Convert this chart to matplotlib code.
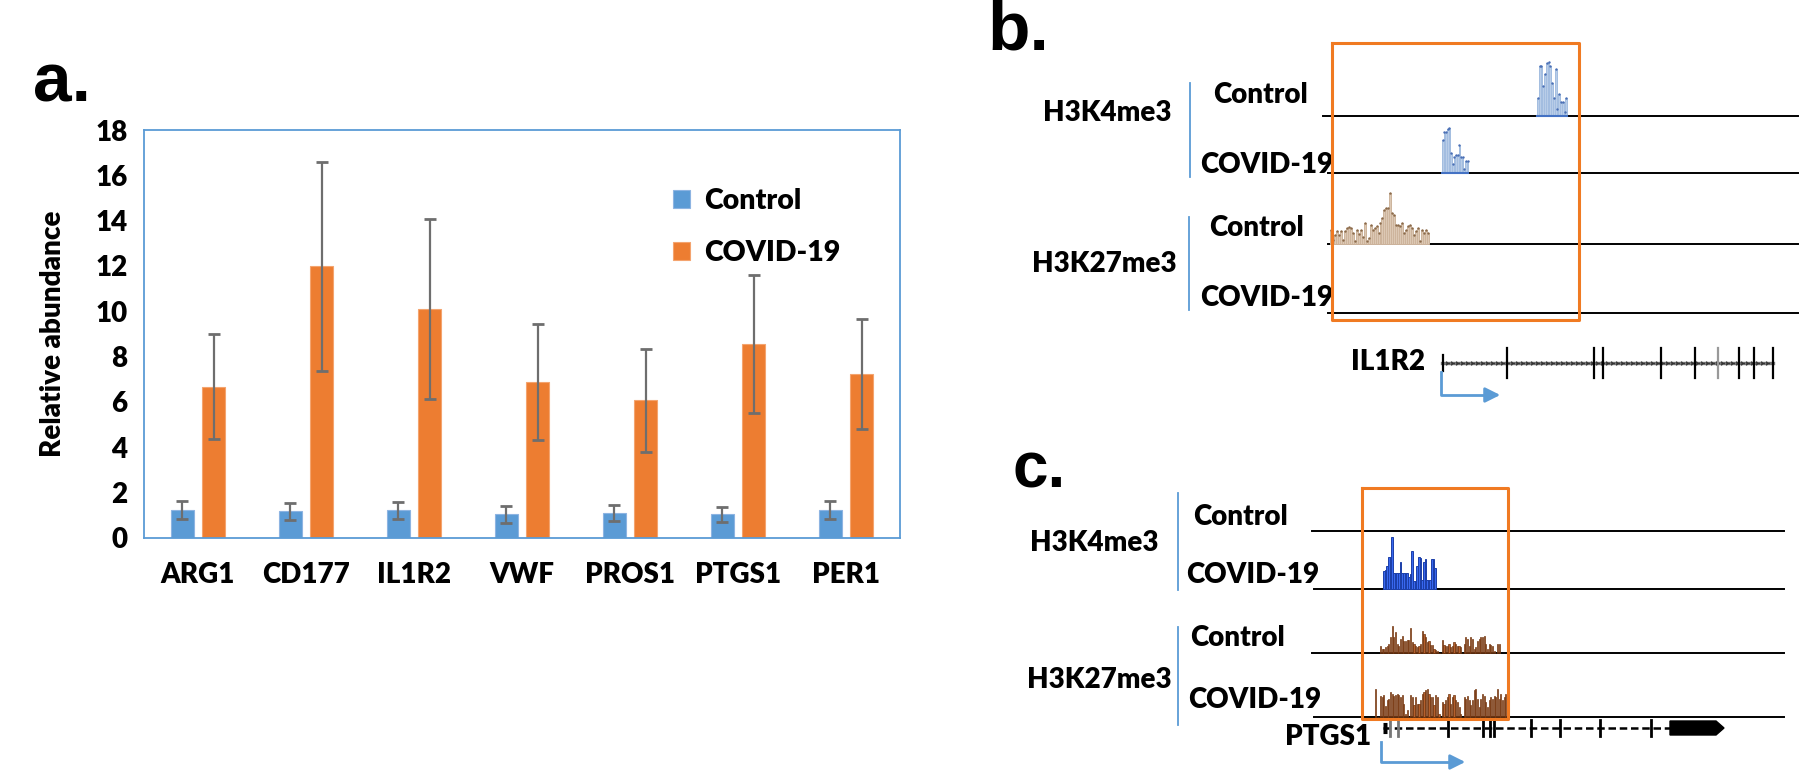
import numpy as np
import matplotlib.pyplot as plt

plt.rcParams['font.family'] = ['Lato', 'DejaVu Sans']
plt.rcParams['font.weight'] = 'heavy'
FW = 'heavy'

# ---- panel a data ----
genes = ['ARG1', 'CD177', 'IL1R2', 'VWF', 'PROS1', 'PTGS1', 'PER1']
control = [1.22, 1.18, 1.22, 1.05, 1.10, 1.05, 1.22]
control_err = [0.40, 0.38, 0.38, 0.37, 0.37, 0.33, 0.40]
covid = [6.68, 11.98, 10.10, 6.88, 6.07, 8.57, 7.24]
covid_err = [2.30, 4.60, 3.98, 2.55, 2.27, 3.05, 2.43]

# ---- panel b signal (IL1R2 locus) ----
b_k4_ctrl = [18, 50, 50, 30, 42, 53, 54, 50, 33, 18, 47, 7, 22, 14, 14, 4, 18]
b_k4_covid = [33, 41, 41, 44, 45, 20, 9, 16, 18, 18, 28, 16, 16, 4, 12, 12]
b_k27_ctrl = [14, 4, 9, 13, 9, 13, 4, 13, 16, 17, 16, 11, 3, 14, 10, 14, 7, 21, 3, 6,
              19, 14, 16, 18, 11, 21, 26, 34, 36, 36, 51, 31, 29, 19, 19, 18, 21, 11, 14, 18,
              19, 16, 9, 13, 16, 3, 14, 11, 14, 11]
il1r2_exons = [1443, 1507, 1594, 1603, 1661, 1695, 1718, 1739, 1754, 1773]

# ---- panel c signal (PTGS1 locus) ----
c_k4_covid = [18, 19, 23, 32, 32, 52, 16, 16, 16, 16, 27, 16, 16, 16, 16, 12, 15, 38, 8, 8,
              23, 32, 31, 9, 27, 30, 9, 9, 9, 30, 30, 21]
c_k27_ctrl = [7, 4, 4, 6, 7, 9, 16, 27, 16, 21, 9, 7, 14, 17, 12, 12, 13, 13, 25, 11,
              9, 7, 6, 7, 9, 22, 19, 16, 11, 12, 8, 8, 4, 3, 2, 0, 0, 13, 8, 7,
              7, 9, 6, 7, 11, 9, 7, 7, 6, 0, 9, 16, 14, 7, 16, 14, 4, 6, 12, 14,
              16, 16, 17, 9, 4, 9, 8, 7, 2, 0, 9, 9]
c_k27_covid = [28, 0, 0, 21, 20, 22, 11, 17, 18, 25, 23, 21, 22, 23, 22, 20, 22, 13, 3, 7,
               0, 22, 20, 12, 20, 13, 13, 17, 23, 25, 27, 28, 23, 20, 20, 12, 22, 20, 3, 0,
               15, 13, 17, 20, 23, 13, 20, 22, 17, 15, 10, 3, 0, 20, 18, 21, 17, 12, 17, 27,
               28, 18, 10, 18, 23, 21, 15, 10, 17, 20, 18, 21, 20, 28, 18, 23, 17, 20, 23, 25]
ptgs1_exons = [1390, 1398, 1448, 1483, 1490, 1494, 1531, 1560, 1600, 1651]

W, H = 1810, 775
fig = plt.figure(figsize=(W / 100, H / 100), dpi=100)

# ================= panel a =================
ax = fig.add_axes([144 / W, 1 - 538 / H, 756 / W, 408 / H])
x = np.arange(len(genes))
ekw = dict(ecolor='#6e6e6e', elinewidth=1.6, capsize=4, capthick=2)
ax.bar(x - 0.145, control, 0.218, yerr=control_err, color='#5b9bd5',
       edgecolor='#8db4e2', linewidth=0.8, error_kw=ekw, label='Control')
ax.bar(x + 0.145, covid, 0.218, yerr=covid_err, color='#ed7d31',
       edgecolor='#f4a46f', linewidth=0.8, error_kw=ekw, label='COVID-19')
ax.set_xlim(-0.5, len(genes) - 0.5)
ax.set_ylim(0, 18)
ax.set_yticks(range(0, 19, 2))
ax.set_xticks(x, genes)
ax.tick_params(axis='both', length=0, labelsize=20)
ax.tick_params(axis='y', pad=12)
ax.tick_params(axis='x', pad=17)
for lab in ax.get_xticklabels() + ax.get_yticklabels():
    lab.set_fontweight(FW)
for s in ax.spines.values():
    s.set_color('#5b9bd5')
    s.set_linewidth(1.3)
ax.set_ylabel('Relative abundance', fontsize=20, fontweight=FW, labelpad=21)
ax.legend(loc='upper left', bbox_to_anchor=(0.70, 0.857), frameon=False,
          prop=dict(size=20.5, weight=FW),
          handlelength=0.6, handleheight=0.6, handletextpad=0.5, labelspacing=0.9,
          borderpad=0, borderaxespad=0)

# ================= panels b, c (pixel canvas) =================
t = fig.add_axes([0, 0, 1, 1])
t.set_xlim(0, W)
t.set_ylim(H, 0)
t.axis('off')
t.patch.set_alpha(0)


def peak(x0, step, heights, base, width, fc, ec, dots=None, lw=0.7):
    h = np.array(heights, dtype=float)
    xs = x0 + step * np.arange(len(h))
    t.bar(xs, -h, width, bottom=base, align='edge', color=fc, edgecolor=ec, linewidth=lw, zorder=2)
    if dots:
        t.scatter(xs + width / 2, base - h, s=3, color=dots, zorder=3, linewidths=0)
    return xs


lbl = dict(fontsize=20, fontweight=FW, va='center')
t.text(33, 102, 'a.', fontsize=50, fontweight='bold', family='Liberation Sans', va='baseline')
t.text(987, 50, 'b.', fontsize=50, fontweight='bold', family='Liberation Sans', va='baseline')
t.text(1012, 487, 'c.', fontsize=46, fontweight='bold', family='Liberation Sans', va='baseline')

# --- panel b ---
t.text(1171, 113, 'H3K4me3', ha='right', **lbl)
t.text(1177, 264, 'H3K27me3', ha='right', **lbl)
t.plot([1190, 1190], [83, 177], color='#5b9bd5', lw=1.3)
t.plot([1189, 1189], [217, 310], color='#5b9bd5', lw=1.3)
t.text(1213, 95, 'Control', ha='left', **lbl)
t.text(1200, 165, 'COVID-19', ha='left', **lbl)
t.text(1209, 228, 'Control', ha='left', **lbl)
t.text(1200, 298, 'COVID-19', ha='left', **lbl)

xs = peak(1537, 1.78, b_k4_ctrl, 116, 1.78, '#b9cde8', '#a3bde0', '#4a6fb5')
t.plot([xs[0], xs[-1] + 1.78], [115.5, 115.5], color='#4472c4', lw=1.5, zorder=3)
xs = peak(1442, 1.65, b_k4_covid, 173, 1.65, '#b9cde8', '#a3bde0', '#4a6fb5')
t.plot([xs[0], xs[-1] + 1.65], [172.5, 172.5], color='#4472c4', lw=1.5, zorder=3)
peak(1330, 1.98, b_k27_ctrl, 244, 1.98, '#dcc8b4', '#cdb49c', '#8b6a4a')

for y0, xa in zip([116, 173, 244, 313], [1323, 1328, 1328, 1328]):
    t.plot([xa, 1798], [y0, y0], color='black', lw=1.4, zorder=1)
t.plot([1332, 1579, 1579, 1332, 1332], [43, 43, 320, 320, 43], color='#f07a22', lw=2.2, zorder=4)

t.text(1351, 362, 'IL1R2', ha='left', **lbl)
t.plot([1442, 1773], [363, 363], color='#777777', lw=2.4, zorder=1)
t.plot(np.arange(1447, 1772, 5), np.full(len(np.arange(1447, 1772, 5)), 363), ls='none',
       marker='4', ms=3.5, color='#333333')
for i, ex in enumerate(il1r2_exons):
    half = 8 if i == 0 else 15
    t.plot([ex, ex], [363 - half, 363 + half], color='#999999' if ex == 1718 else 'black', lw=1.6)
t.plot([1441, 1441, 1490], [372, 395, 395], color='#5b9bd5', lw=2)
t.annotate('', xy=(1503, 395), xytext=(1488, 395),
           arrowprops=dict(arrowstyle='-|>,head_length=0.9,head_width=0.45', color='#5b9bd5', lw=2))

# --- panel c ---
t.text(1158, 543, 'H3K4me3', ha='right', **lbl)
t.text(1172, 680, 'H3K27me3', ha='right', **lbl)
t.plot([1178, 1178], [493, 590], color='#5b9bd5', lw=1.3)
t.plot([1178, 1178], [627, 725], color='#5b9bd5', lw=1.3)
t.text(1193, 517, 'Control', ha='left', **lbl)
t.text(1186, 575, 'COVID-19', ha='left', **lbl)
t.text(1190, 638, 'Control', ha='left', **lbl)
t.text(1188, 700, 'COVID-19', ha='left', **lbl)

peak(1383, 1.66, c_k4_covid, 589, 1.66, '#3868f0', '#1c3fa8')
peak(1380, 1.67, c_k27_ctrl, 653, 1.1, '#b5602c', '#6e3410', lw=0.5)
peak(1375, 1.67, c_k27_covid, 717, 1.1, '#b5602c', '#6e3410', lw=0.5)

for y0, xa in zip([531, 589, 653, 717], [1312, 1314, 1312, 1314]):
    t.plot([xa, 1784], [y0, y0], color='black', lw=1.4, zorder=1)
t.plot([1362, 1508, 1508, 1362, 1362], [488, 488, 719, 719, 488], color='#f07a22', lw=2.2, zorder=4)

t.text(1285, 737, 'PTGS1', ha='left', **lbl)
t.plot([1383, 1672], [728, 728], color='black', lw=1.8, ls=(0, (3, 1.5)), zorder=1)
t.plot([1383, 1387], [728, 728], color='black', lw=8, solid_capstyle='butt')
for ex in ptgs1_exons:
    t.plot([ex, ex], [720, 736], color='#777777' if ex in (1390, 1398) else 'black', lw=2)
t.fill([1670, 1716, 1724, 1716, 1670], [721, 721, 728, 735, 735], color='black', zorder=3)
t.plot([1381, 1381, 1452], [742, 762, 762], color='#5b9bd5', lw=2)
t.annotate('', xy=(1468, 762), xytext=(1450, 762),
           arrowprops=dict(arrowstyle='-|>,head_length=0.9,head_width=0.45', color='#5b9bd5', lw=2))

fig.savefig('out.png', dpi=100)
